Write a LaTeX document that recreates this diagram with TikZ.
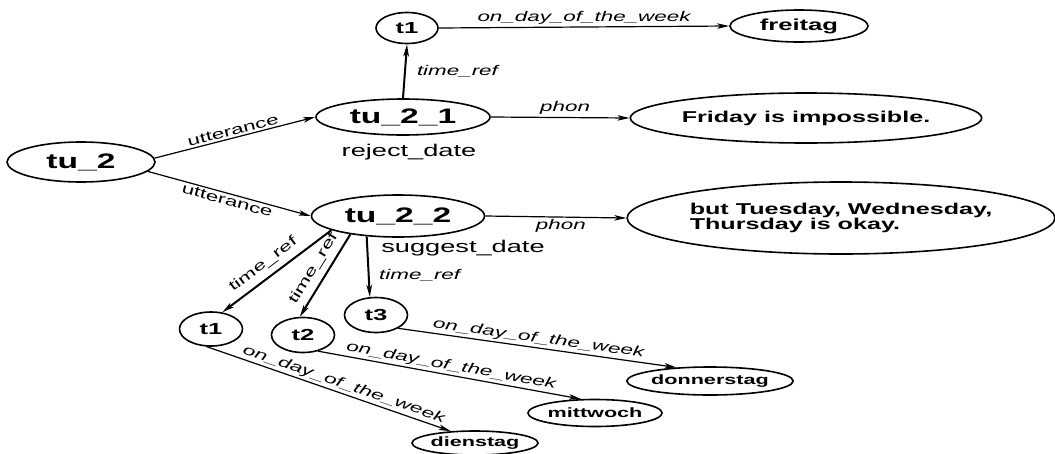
\documentclass[tikz,border=0pt]{standalone}
\usepackage{fontspec}
\setmainfont{Liberation Sans}[FakeStretch=1.6]
\usetikzlibrary{shapes.geometric,arrows.meta}
\tikzset{
  ell/.style={ellipse, draw, line width=1.6pt, inner sep=0pt, font=\bfseries\fontsize{16}{17}\selectfont},
  big/.style={ell, font=\bfseries\fontsize{21}{22}\selectfont},
  mid/.style={ell, font=\bfseries\fontsize{15.7}{15}\selectfont},
  day/.style={ell, font=\bfseries\fontsize{13.5}{14}\selectfont},
  edge/.style={line width=1.2pt, -{Stealth[length=12pt,width=5.5pt,inset=3pt]}},
  thick edge/.style={edge, line width=2pt},
  ilab/.style={font=\itshape\fontsize{14}{15}\selectfont, inner sep=2pt},
  ulab/.style={font=\fontsize{14}{15}\selectfont, inner sep=2pt},
  note/.style={font=\fontsize{17}{18}\selectfont},
}
\begin{document}
\begin{tikzpicture}[x=1pt,y=-1pt]
\useasboundingbox (0,0) rectangle (1055,453);
% nodes
\node[big, minimum width=148pt, minimum height=40pt] (tu2) at (81,162) {tu\_2};
\node[big, minimum width=174pt, minimum height=36pt] (tu21) at (403,117) {tu\_2\_1};
\node[note] (rej) at (409,152) {reject\_date};
\node[ell, minimum width=62pt, minimum height=31pt] (t1a) at (407,28) {t1};
\node[ell, minimum width=138pt, minimum height=32pt] (frei) at (799,26) {freitag};
\node[mid, minimum width=338pt, minimum height=50pt] (fri) at (806,118) {Friday is impossible.};
\node[big, minimum width=173pt, minimum height=42pt] (tu22) at (398,216) {tu\_2\_2};
\node[note] (sug) at (463,248) {suggest\_date};
\node[mid, minimum width=422pt, minimum height=72pt, align=left] (tue) at (841,218) {but Tuesday, Wednesday,\\Thursday is okay.};
\node[ell, minimum width=63pt, minimum height=34pt] (t1b) at (211,329) {t1};
\node[ell, minimum width=63pt, minimum height=35pt] (t2) at (303,335) {t2};
\node[ell, minimum width=63pt, minimum height=35pt] (t3) at (376,315) {t3};
\node[day, minimum width=126pt, minimum height=24pt] (die) at (475,443) {dienstag};
\node[day, minimum width=130pt, minimum height=27pt] (mit) at (595,413) {mittwoch};
\node[day, minimum width=164pt, minimum height=28pt] (don) at (710,381) {donnerstag};
% edges
\draw[edge] (tu2.3) -- node[ulab, sloped, above] {utterance} (tu21.west);
\draw[edge] (tu2.-8) -- node[ulab, sloped, below] {utterance} (tu22.west);
\draw[thick edge] (tu21.north) -- node[ilab, right, xshift=9pt] {time\_ref} (t1a.south);
\draw[edge] (t1a.east) -- node[ilab, above] {on\_day\_of\_the\_week} (frei.west);
\draw[edge] (tu21.east) -- node[ilab, above, xshift=5pt] {phon} (fri.west);
\draw[edge] (tu22.east) -- node[ilab, below, xshift=5pt] {phon} (tue.west);
\draw[thick edge] (tu22.192) -- node[ulab, sloped, above, inner sep=6pt, pos=0.55] {time\_ref} (t1b.56);
\draw[thick edge] (tu22.201) -- node[ulab, sloped, above, inner sep=6pt] {time\_ref} (t2.100);
\draw[thick edge] (tu22.213) -- node[ilab, right, xshift=8pt, yshift=-9pt] {time\_ref} (t3.109);
\draw[edge] (t1b.256) -- node[ilab, sloped, above, pos=0.55] {on\_day\_of\_the\_week} (die.154);
\draw[edge] (t2.-47) -- node[ilab, sloped, above] {on\_day\_of\_the\_week} (mit.135);
\draw[edge] (t3.-31) -- node[ilab, sloped, above] {on\_day\_of\_the\_week} (don.158);
\end{tikzpicture}
\end{document}
